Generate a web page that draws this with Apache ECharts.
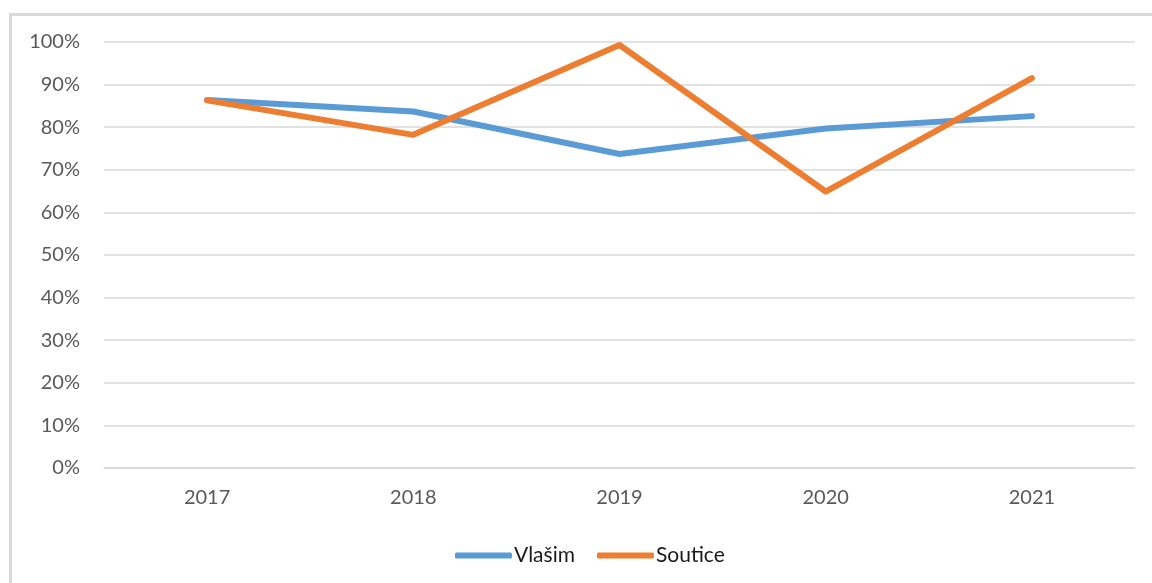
<!DOCTYPE html>
<html>
<head>
<meta charset="utf-8">
<script src="https://cdn.jsdelivr.net/npm/echarts@6/dist/echarts.min.js"></script>
<style>
  html, body { margin: 0; padding: 0; background: #fff; overflow: hidden; }
  #frame { position: absolute; left: 9px; top: 13px; width: 1200px; height: 620px;
           border: 3px solid #d9d9d9; box-sizing: border-box; }
  #chart { position: absolute; left: 0; top: 0; width: 1152px; height: 583px; }
</style>
</head>
<body>
<div id="frame"></div>
<div id="chart"></div>
<script>
// roky a hodnoty (podíl v %)
const years = ['2017', '2018', '2019', '2020', '2021'];
const vlasim = [86.4, 83.7, 73.7, 79.7, 82.6];
const soutice = [86.3, 78.2, 99.3, 64.9, 91.5];
const seriesNames = ['Vlašim', 'Soutice'];
const colors = ['#5b9bd5', '#ed7d31'];

const chart = echarts.init(document.getElementById('chart'));
const font = 'Lato, "Open Sans", sans-serif';

chart.setOption({
  animation: false,
  color: colors,
  textStyle: { fontFamily: font },
  grid: { left: 104, right: 17, top: 42, bottom: 115 },
  legend: {
    left: 450,
    top: 540,
    itemWidth: 57,
    itemHeight: 6,
    itemGap: 22,
    icon: 'roundRect',
    textStyle: { fontSize: 21, color: '#1a1a1a', fontFamily: font, padding: [0, 0, 0, -3] },
    data: seriesNames
  },
  xAxis: {
    type: 'category',
    data: years,
    boundaryGap: true,
    axisLine: { lineStyle: { color: '#d9d9d9', width: 1.5 } },
    axisTick: { show: false },
    axisLabel: { color: '#595959', fontSize: 20, margin: 20 }
  },
  yAxis: {
    type: 'value',
    min: 0,
    max: 100,
    interval: 10,
    axisLine: { show: false },
    axisTick: { show: false },
    axisLabel: { color: '#595959', fontSize: 20, margin: 24, formatter: '{value}%' },
    splitLine: { lineStyle: { color: '#d9d9d9', width: 1.5 } }
  },
  series: [
    {
      name: seriesNames[0],
      type: 'line',
      data: vlasim,
      symbol: 'none',
      lineStyle: { width: 6, cap: 'round', join: 'round' }
    },
    {
      name: seriesNames[1],
      type: 'line',
      data: soutice,
      symbol: 'none',
      lineStyle: { width: 6, cap: 'round', join: 'round' }
    }
  ]
});
</script>
</body>
</html>
